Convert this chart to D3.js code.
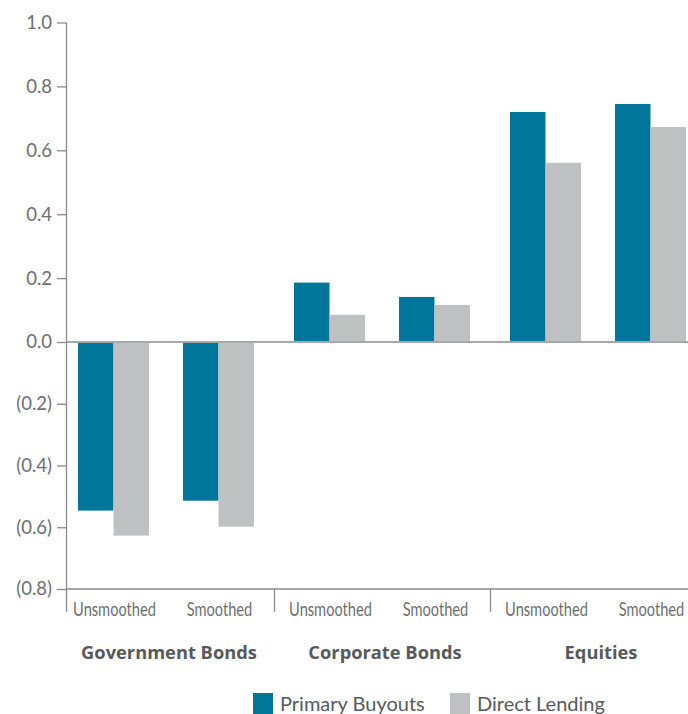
<!DOCTYPE html>
<html>
<head>
<meta charset="utf-8">
<script src="https://cdn.jsdelivr.net/npm/d3@7"></script>
<style>
  html, body { margin: 0; padding: 0; background: #fff; }
  svg { display: block; }
</style>
</head>
<body>
<svg id="chart" width="688" height="714"></svg>
<script>
// ---- data ----
const groups = ["Government Bonds", "Corporate Bonds", "Equities"];
const subcats = ["Unsmoothed", "Smoothed"];
const seriesNames = ["Primary Buyouts", "Direct Lending"];
// values in order: [group][subcat]
const primaryBuyouts = [[-0.546, -0.514], [0.186, 0.141], [0.720, 0.745]];
const directLending  = [[-0.627, -0.598], [0.085, 0.116], [0.561, 0.673]];
const tickValues = [-0.8, -0.6, -0.4, -0.2, 0, 0.2, 0.4, 0.6, 0.8, 1.0];
const colors = ["#00769a", "#bfc0c2"];

const svg = d3.select("#chart");

// ---- scales ----
const y = d3.scaleLinear().domain([-0.8, 0, 1.0]).range([589, 342, 22.5]);
const xGroup = d3.scaleBand().domain(groups).range([58, 706]).paddingInner(0).paddingOuter(0);
const xSub = d3.scalePoint().domain(subcats).range([xGroup.bandwidth() / 2 - 52.5, xGroup.bandwidth() / 2 + 52.5]);
const xSeries = d3.scaleBand().domain(seriesNames).range([-35.5, 35.5]);

const rows = [];
groups.forEach((g, gi) => subcats.forEach((s, si) => {
  rows.push({ g, s, series: seriesNames[0], v: primaryBuyouts[gi][si], c: colors[0] });
  rows.push({ g, s, series: seriesNames[1], v: directLending[gi][si], c: colors[1] });
}));

// ---- bars ----
svg.append("g").selectAll("rect").data(rows).join("rect")
  .attr("x", d => xGroup(d.g) + xSub(d.s) + xSeries(d.series))
  .attr("width", xSeries.bandwidth())
  .attr("y", d => Math.min(y(d.v), y(0)))
  .attr("height", d => Math.abs(y(d.v) - y(0)))
  .attr("fill", d => d.c);

// ---- zero line ----
svg.append("line")
  .attr("x1", 66).attr("x2", 688)
  .attr("y1", y(0)).attr("y2", y(0))
  .attr("stroke", "#a7a8aa").attr("stroke-width", 2);

// ---- y axis ----
const fmt = v => {
  const s = Math.abs(v).toFixed(1);
  return v < 0 ? "(" + s + ")" : s;
};
const yAxis = svg.append("g").attr("transform", "translate(66,0)")
  .call(d3.axisLeft(y).tickValues(tickValues).tickFormat(fmt).tickSize(9).tickSizeOuter(0).tickPadding(5));
yAxis.select(".domain").remove();
yAxis.selectAll(".tick line").attr("stroke", "#8a8a8a").attr("stroke-width", 1.3);
yAxis.selectAll(".tick text")
  .attr("fill", "#6d6e71")
  .style("font-family", "Lato, 'Open Sans', sans-serif")
  .style("font-size", "18.5px");
svg.append("line")
  .attr("x1", 66.5).attr("x2", 66.5)
  .attr("y1", y(1.0)).attr("y2", 612)
  .attr("stroke", "#8a8a8a").attr("stroke-width", 1.3);

// ---- bottom axis line ----
svg.append("line")
  .attr("x1", 66).attr("x2", 688)
  .attr("y1", y(-0.8)).attr("y2", y(-0.8))
  .attr("stroke", "#8a8a8a").attr("stroke-width", 1.3);

// group separators
groups.slice(1).forEach(g => {
  svg.append("line")
    .attr("x1", xGroup(g) + 0.5).attr("x2", xGroup(g) + 0.5)
    .attr("y1", y(-0.8)).attr("y2", 612)
    .attr("stroke", "#8a8a8a").attr("stroke-width", 1.3);
});

// sub-category labels (condensed)
const subLabels = [];
groups.forEach(g => subcats.forEach(s => subLabels.push({ g, s })));
svg.append("g").selectAll("text").data(subLabels).join("text")
  .attr("transform", d => `translate(${xGroup(d.g) + xSub(d.s) + 1},616) scale(0.77,1)`)
  .attr("text-anchor", "middle")
  .attr("fill", "#6d6e71")
  .style("font-family", "Lato, 'Open Sans', sans-serif")
  .style("font-size", "19px")
  .text(d => d.s);

// group labels
svg.append("g").selectAll("text").data(groups).join("text")
  .attr("x", d => xGroup(d) + xGroup.bandwidth() / 2 + 3)
  .attr("y", 659)
  .attr("text-anchor", "middle")
  .attr("fill", "#58595b")
  .style("font-family", "'Open Sans', Lato, sans-serif")
  .style("font-weight", "bold")
  .style("font-size", "18.3px")
  .text(d => d);

// ---- legend ----
const legendX = [253, 450];
const legend = svg.append("g").selectAll("g").data(seriesNames).join("g")
  .attr("transform", (d, i) => `translate(${legendX[i]},693)`);
legend.append("rect").attr("width", 20).attr("height", 21).attr("fill", (d, i) => colors[i]);
legend.append("text")
  .attr("x", 27).attr("y", 17.5)
  .attr("fill", "#58595b")
  .style("font-family", "Lato, 'Open Sans', sans-serif")
  .style("font-size", "20px")
  .text(d => d);
</script>
</body>
</html>
